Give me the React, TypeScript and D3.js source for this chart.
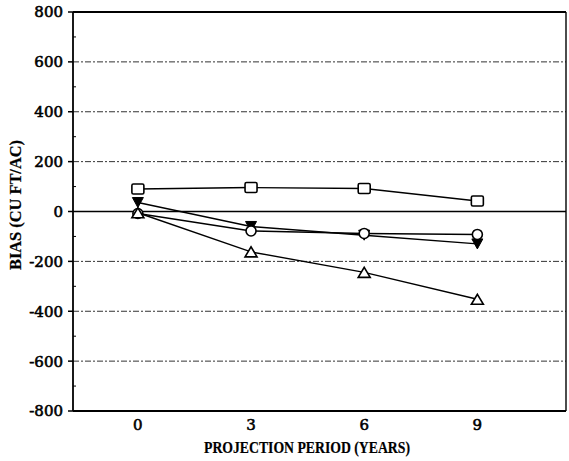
import React from "react";
import * as d3 from "d3";

const years = [0, 3, 6, 9];
const squareVals = [90, 96, 92, 42];
const downTriVals = [36, -60, -95, -130];
const circleVals = [-8, -78, -88, -92];
const upTriVals = [-5, -162, -244, -352];
const yTicks = [800, 600, 400, 200, 0, -200, -400, -600, -800];
const yMinor = [700, 500, 300, 100, -100, -300, -500, -700];
const xTicks = [0, 3, 6, 9];

const W = 569, H = 461;
const left = 73, right = 566, top = 12, bottom = 411;

export default function App() {
  const x = d3.scaleLinear().domain([-1.72, 11.35]).range([left, right]);
  const y = d3.scaleLinear().domain([-800, 800]).range([bottom, top]);
  const line = d3.line<number>().x((_, i) => x(years[i])).y((v) => y(v));
  const font = "'DejaVu Serif', 'Liberation Serif', serif";
  const labelFont = "'Liberation Serif', 'Times New Roman', serif";

  const series = [
    { vals: squareVals, kind: "square" },
    { vals: downTriVals, kind: "down" },
    { vals: circleVals, kind: "circle" },
    { vals: upTriVals, kind: "up" },
  ];

  const marker = (kind: string, cx: number, cy: number, key: string) => {
    const s = 6;
    if (kind === "square")
      return <rect key={key} x={cx - s} y={cy - 5} width={2 * s} height={10} rx={1.5} fill="white" stroke="black" strokeWidth={1.6} />;
    if (kind === "circle")
      return <circle key={key} cx={cx} cy={cy} r={5} fill="white" stroke="black" strokeWidth={1.6} />;
    if (kind === "down")
      return <path key={key} d={`M${cx - 5.5},${cy - 5}L${cx + 5.5},${cy - 5}L${cx},${cy + 5}Z`} fill="black" stroke="black" strokeWidth={1} />;
    return <path key={key} d={`M${cx - 6},${cy + 5}L${cx + 6},${cy + 5}L${cx},${cy - 5}Z`} fill="white" stroke="black" strokeWidth={1.6} />;
  };

  const txt = { fontFamily: font, fill: "black", stroke: "black", strokeWidth: 0.6 } as const;
  const lbl = { fontFamily: labelFont, fontWeight: "bold", fill: "black", stroke: "black", strokeWidth: 0.2 } as const;

  return (
    <svg width={W} height={H} style={{ position: "absolute", left: 0, top: 0, background: "white" }}>
      <rect x={0} y={0} width={W} height={H} fill="white" />
      {yTicks.filter((t) => t !== 0 && Math.abs(t) !== 800).map((t) => (
        <line key={"g" + t} x1={left} x2={right} y1={y(t)} y2={y(t)} stroke="#333" strokeWidth={1} strokeDasharray="6,2,2,2" />
      ))}
      <line x1={left} x2={right} y1={y(0)} y2={y(0)} stroke="black" strokeWidth={1.6} />
      <line x1={left} x2={right} y1={top} y2={top} stroke="black" strokeWidth={1.8} />
      <line x1={left} x2={right} y1={bottom} y2={bottom} stroke="black" strokeWidth={1.8} />
      <line x1={left} x2={left} y1={top} y2={bottom} stroke="black" strokeWidth={1.8} />
      <line x1={right} x2={right} y1={top} y2={bottom} stroke="black" strokeWidth={1.4} />
      {yTicks.map((t) => (
        <g key={"yt" + t}>
          <line x1={left - 5} x2={left} y1={y(t)} y2={y(t)} stroke="black" strokeWidth={1.5} />
          <text x={left - 10} y={y(t)} dy="0.36em" textAnchor="end" fontSize={15} {...txt}>{t}</text>
        </g>
      ))}
      {yMinor.map((t) => (
        <line key={"ym" + t} x1={left} x2={left + 3} y1={y(t)} y2={y(t)} stroke="black" strokeWidth={1} />
      ))}
      {xTicks.map((t) => (
        <text key={"xt" + t} x={x(t)} y={bottom + 19} textAnchor="middle" fontSize={15} {...txt}>{t}</text>
      ))}
      {series.map((s, si) => (
        <g key={"s" + si}>
          <path d={line(s.vals) || ""} fill="none" stroke="black" strokeWidth={1.4} />
          {s.vals.map((v, i) => marker(s.kind, x(years[i]), y(v), `m${si}-${i}`))}
        </g>
      ))}
      <text x={204} y={453} textLength={206} lengthAdjust="spacingAndGlyphs" fontSize={16.5} {...lbl}>PROJECTION PERIOD (YEARS)</text>
      <text transform={`translate(21,205) rotate(-90)`} textAnchor="middle" textLength={130} lengthAdjust="spacingAndGlyphs" fontSize={16.5} {...lbl}>BIAS (CU FT/AC)</text>
    </svg>
  );
}
